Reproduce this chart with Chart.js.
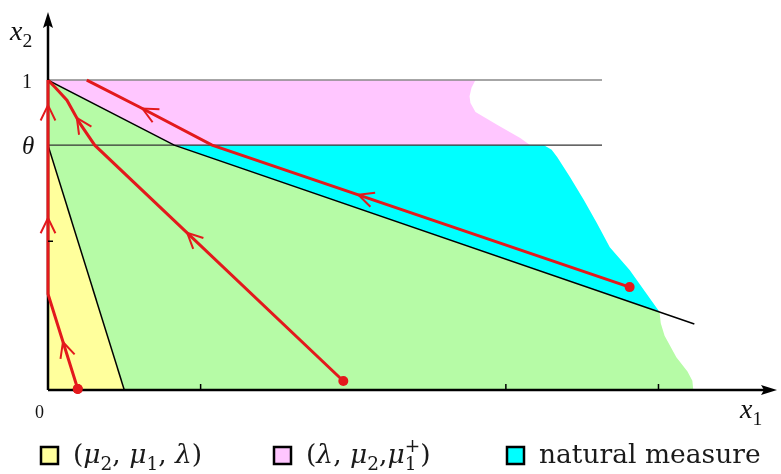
<!DOCTYPE html>
<html>
<head>
<meta charset="utf-8">
<script src="https://cdn.jsdelivr.net/npm/chart.js@4/dist/chart.umd.min.js"></script>
<style>
  html, body { margin: 0; background: #fff; }
</style>
</head>
<body>
<canvas id="c" width="781" height="474"></canvas>
<script>
// axis ranges and ticks (x1, x2 units)
const THETA = 0.79;
const X_MAX = 4.77;
const Y_MAX = 1.21;
const xTicks = [1, 3, 4];
const yTicks = [0.48];
const guideEnd = 3.63; // where the x2 = 1 and x2 = theta guide lines stop

// coloured regions, as [x1, x2] corners
const yellowRegion = [[0, 0], [0, THETA], [0.5, 0]];
const greenRegion = [[0, 1], [0.827, THETA], [4.007, 0.252], [4.015, 0.215], [4.04, 0.175], [4.117, 0.106],
  [4.19, 0.06], [4.222, 0.03], [4.228, 0], [0.5, 0], [0, THETA]];
const pinkRegion = [[0, 1], [2.801, 1], [2.775, 0.975], [2.762, 0.948], [2.768, 0.926], [2.801, 0.897],
  [2.945, 0.855], [3.094, 0.813], [3.16, THETA], [0.827, THETA]];
const cyanRegion = [[0.827, THETA], [3.25, THETA], [3.3, 0.775], [3.336, 0.752], [3.42, 0.687], [3.511, 0.613],
  [3.596, 0.539], [3.681, 0.461], [3.811, 0.387], [4.007, 0.252]];

// black boundary lines
const upperBoundary = [[0, 1], [0.827, THETA], [4.235, 0.213]];
const lowerBoundary = [[0, THETA], [0.5, 0]];

// red trajectories (from their starting dot onward)
const traj1 = [[0.195, 0.003], [0, 0.31], [0, 1]];
const traj2 = [[1.935, 0.029], [0.306, THETA], [0.208, 0.861], [0.124, 0.935], [0.046, 0.977], [0, 1]];
const traj3 = [[3.811, 0.332], [1.075, THETA], [0.599, 0.913], [0.254, 1]];
const trajStarts = [traj1[0], traj2[0], traj3[0]];

// arrow heads: tip, and an earlier point of the same path that gives the direction
const arrows = [
  { at: [0.098, 0.155], from: [0.195, 0.003] },
  { at: [0, 0.555], from: [0, 0.31] },
  { at: [0, 0.919], from: [0, 0.31] },
  { at: [0.912, 0.507], from: [1.935, 0.029] },
  { at: [0.189, 0.878], from: [0.306, THETA] },
  { at: [2.033, 0.63], from: [3.811, 0.332] },
  { at: [0.619, 0.908], from: [1.075, THETA] }
];

const YELLOW = '#ffff9c';
const GREEN = '#b6fba6';
const PINK = '#ffc6ff';
const CYAN = '#00ffff';
const RED = '#e3191c';

const FONT = '"Liberation Serif", "DejaVu Serif", serif';
const LEGEND_FONT = '"DejaVu Serif", serif';

const legendItems = [
  { color: YELLOW, x: 41, parts: [{ t: '(' }, { t: 'μ', i: 1 }, { t: '2', sub: 1 }, { t: ', ' }, { t: 'μ', i: 1 }, { t: '1', sub: 1 }, { t: ', ' }, { t: 'λ', i: 1 }, { t: ')' }] },
  { color: PINK, x: 274, parts: [{ t: '(' }, { t: 'λ', i: 1 }, { t: ', ' }, { t: 'μ', i: 1 }, { t: '2', sub: 1 }, { t: ',' }, { t: 'μ', i: 1 }, { t: '1', sub: 1, sup: '+' }, { t: ')' }] },
  { color: CYAN, x: 507, parts: [{ t: 'natural measure' }] }
];

const pts = arr => arr.map(([x, y]) => ({ x, y }));

function region(data, color, order) {
  return { data: pts(data), backgroundColor: color, borderWidth: 0, pointRadius: 0, fill: 'shape', order };
}
function line(data, color, width, order) {
  return { data: pts(data), borderColor: color, borderWidth: width, pointRadius: 0, fill: false, order };
}

// draw text made of pieces: italic, subscript, superscript
function drawRich(ctx, x, y, parts, size, family = FONT) {
  for (const p of parts) {
    if (p.sub) {
      ctx.font = `${size * 0.7}px ${family}`;
      ctx.fillText(p.t, x, y + size * 0.25);
      let w = ctx.measureText(p.t).width;
      if (p.sup) {
        ctx.fillText(p.sup, x, y - size * 0.4);
        w = Math.max(w, ctx.measureText(p.sup).width);
      }
      x += w;
    } else {
      ctx.font = `${p.i ? 'italic ' : ''}${size}px ${family}`;
      ctx.fillText(p.t, x, y);
      x += ctx.measureText(p.t).width;
    }
  }
}

const decorations = {
  id: 'decorations',
  afterDatasetsDraw(chart) {
    const { ctx, scales: { x, y } } = chart;
    const x0 = x.getPixelForValue(0), y0 = y.getPixelForValue(0);
    const xEnd = x.getPixelForValue(X_MAX), yEnd = y.getPixelForValue(Y_MAX);
    ctx.save();

    // axes with arrow heads
    ctx.strokeStyle = '#000';
    ctx.fillStyle = '#000';
    ctx.lineWidth = 2.5;
    ctx.beginPath();
    ctx.moveTo(x0, y0); ctx.lineTo(x0, yEnd + 6);
    ctx.moveTo(x0, y0); ctx.lineTo(xEnd - 6, y0);
    ctx.stroke();
    ctx.beginPath();
    ctx.moveTo(x0, yEnd - 3); ctx.lineTo(x0 - 5, yEnd + 13); ctx.lineTo(x0, yEnd + 10); ctx.lineTo(x0 + 5, yEnd + 13);
    ctx.closePath(); ctx.fill();
    ctx.beginPath();
    ctx.moveTo(xEnd + 1, y0); ctx.lineTo(xEnd - 15, y0 - 5); ctx.lineTo(xEnd - 12, y0); ctx.lineTo(xEnd - 15, y0 + 5);
    ctx.closePath(); ctx.fill();

    // the first trajectory runs up the x2 axis and lies on top of it
    ctx.strokeStyle = RED;
    ctx.lineWidth = 3;
    ctx.beginPath();
    traj1.forEach(([a, b], i) => {
      const px = x.getPixelForValue(a), py = y.getPixelForValue(b);
      if (i) ctx.lineTo(px, py); else ctx.moveTo(px, py);
    });
    ctx.stroke();
    ctx.fillStyle = RED;
    ctx.beginPath();
    ctx.arc(x.getPixelForValue(traj1[0][0]), y.getPixelForValue(traj1[0][1]), 5, 0, Math.PI * 2);
    ctx.fill();

    // arrow heads on trajectories
    ctx.lineWidth = 2;
    for (const a of arrows) {
      const tx = x.getPixelForValue(a.at[0]), ty = y.getPixelForValue(a.at[1]);
      const fx = x.getPixelForValue(a.from[0]), fy = y.getPixelForValue(a.from[1]);
      const ang = Math.atan2(fy - ty, fx - tx);
      ctx.beginPath();
      ctx.moveTo(tx + 17 * Math.cos(ang + 0.45), ty + 17 * Math.sin(ang + 0.45));
      ctx.lineTo(tx, ty);
      ctx.lineTo(tx + 17 * Math.cos(ang - 0.45), ty + 17 * Math.sin(ang - 0.45));
      ctx.stroke();
    }

    // ticks
    ctx.strokeStyle = '#000';
    ctx.lineWidth = 1.5;
    ctx.beginPath();
    for (const t of xTicks) {
      const px = x.getPixelForValue(t);
      ctx.moveTo(px, y0); ctx.lineTo(px, y0 - 6);
    }
    for (const t of yTicks) {
      const py = y.getPixelForValue(t);
      ctx.moveTo(x0, py); ctx.lineTo(x0 + 5, py);
    }
    ctx.stroke();

    // axis labels
    ctx.fillStyle = '#111';
    ctx.textBaseline = 'alphabetic';
    drawRich(ctx, 10, 40, [{ t: 'x', i: 1 }, { t: '2', sub: 1 }], 28);
    drawRich(ctx, 740, 418, [{ t: 'x', i: 1 }, { t: '1', sub: 1 }], 28);
    drawRich(ctx, 22, y.getPixelForValue(1) + 8, [{ t: '1' }], 20);
    drawRich(ctx, 22, y.getPixelForValue(THETA) + 9, [{ t: 'θ', i: 1 }], 25);
    drawRich(ctx, 35, 418, [{ t: '0' }], 18);

    // legend
    for (const item of legendItems) {
      ctx.fillStyle = item.color;
      ctx.fillRect(item.x, 447, 17, 17);
      ctx.strokeStyle = '#000';
      ctx.lineWidth = 2.5;
      ctx.strokeRect(item.x, 447, 17, 17);
      ctx.fillStyle = '#1a1a1a';
      drawRich(ctx, item.x + 32, 463, item.parts, 26.5, LEGEND_FONT);
    }
    ctx.restore();
  }
};

new Chart(document.getElementById('c'), {
  type: 'line',
  data: {
    datasets: [
      region(greenRegion, GREEN, 20),
      region(yellowRegion, YELLOW, 19),
      region(pinkRegion, PINK, 18),
      region(cyanRegion, CYAN, 17),
      line([[0, 1], [guideEnd, 1]], '#888', 1.5, 12),
      line([[0, THETA], [guideEnd, THETA]], '#333', 1.2, 11),
      line(upperBoundary, '#000', 1.5, 10),
      line(lowerBoundary, '#000', 1.5, 9),
      line(traj2, RED, 3, 2),
      line(traj3, RED, 3, 1),
      { data: pts(trajStarts), showLine: false, pointRadius: 5, pointBackgroundColor: RED,
        pointBorderWidth: 0, order: 0, clip: false }
    ]
  },
  options: {
    responsive: false,
    animation: false,
    devicePixelRatio: 1,
    layout: { padding: { left: 48, right: 1, top: 15, bottom: 84 } },
    scales: {
      x: { type: 'linear', min: 0, max: X_MAX, display: false },
      y: { type: 'linear', min: 0, max: Y_MAX, display: false }
    },
    plugins: { legend: { display: false }, tooltip: { enabled: false } }
  },
  plugins: [decorations]
});
</script>
</body>
</html>
